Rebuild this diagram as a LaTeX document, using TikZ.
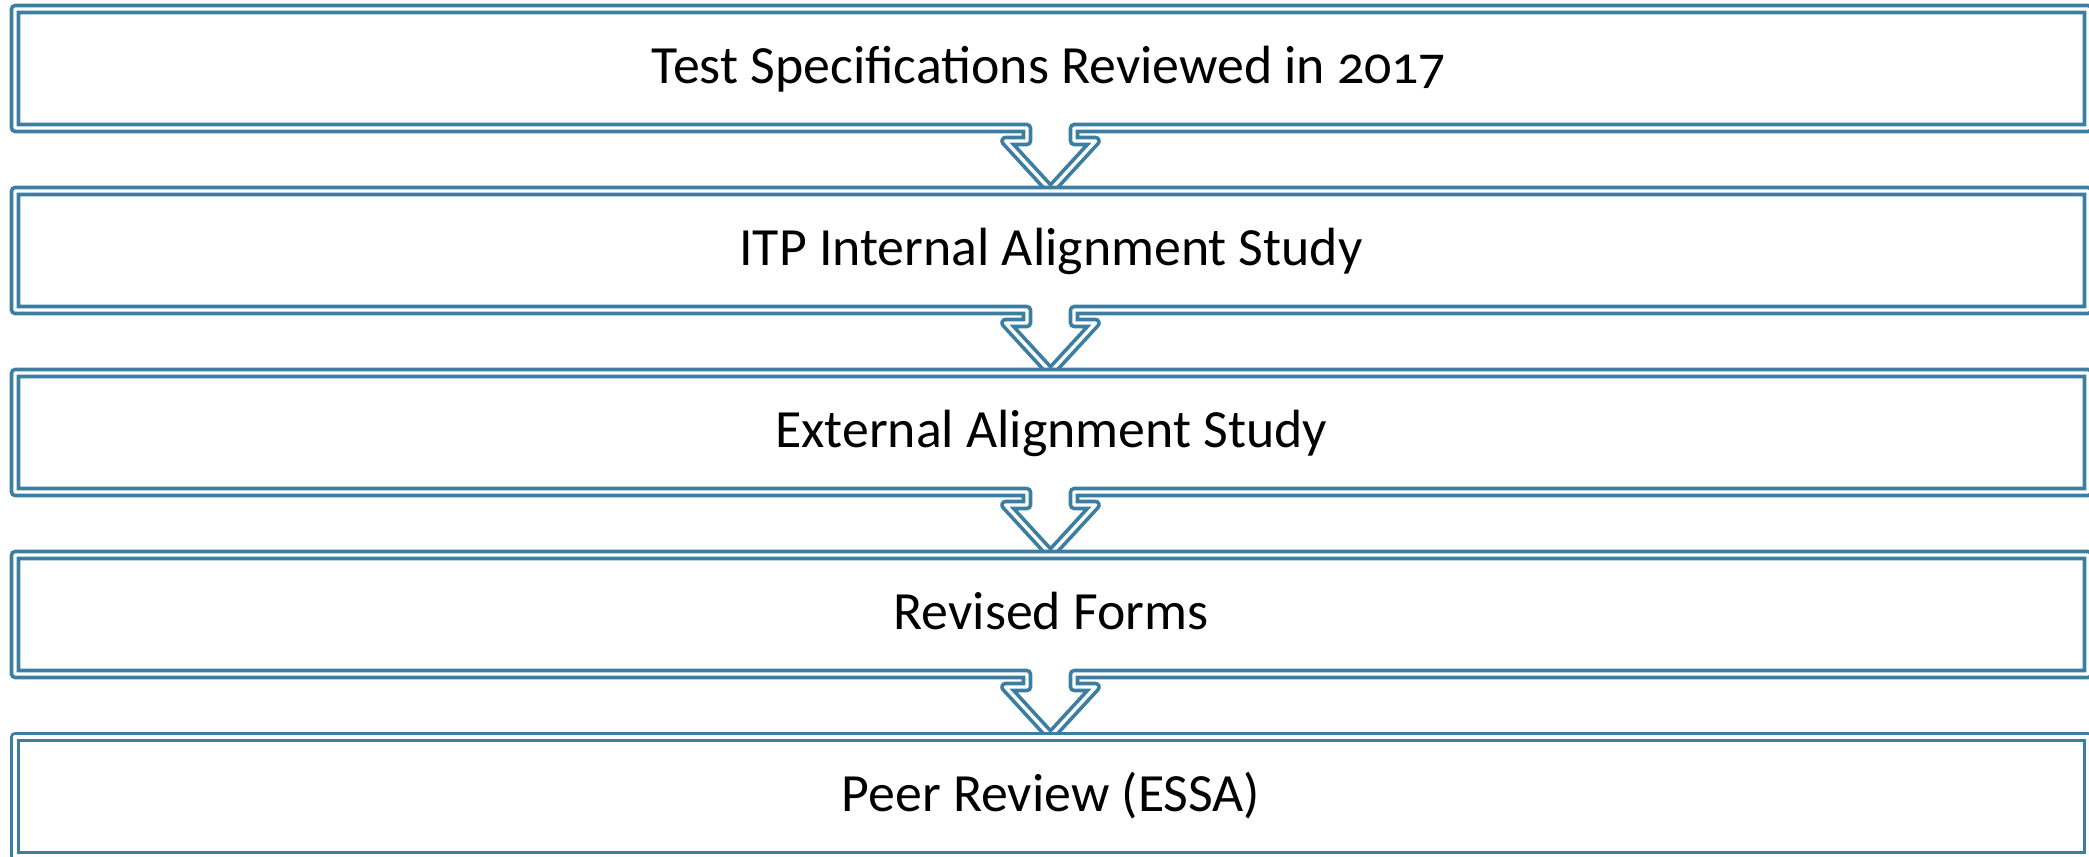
\documentclass[tikz,border=0pt]{standalone}
\usepackage{fontspec}
\setmainfont{Carlito}[Numbers=OldStyle]
\usepackage{tikz}

\definecolor{frameblue}{RGB}{60,126,162}

\begin{document}
\begin{tikzpicture}[x=0.01cm,y=-0.01cm,
  stepframe/.style={draw=frameblue, double=white, line width=1.05pt,
    double distance=0.95pt, line join=round},
  steptext/.style={anchor=base, inner sep=0pt,
    font=\fontsize{15.3}{18}\selectfont}]
\useasboundingbox (0,0) rectangle (2089,856);
% box 1 with arrow
\draw[stepframe] (15,9)--(2088,9)--(2088,128)--(1074,128)--(1074,141)--(1095.5,141)
  --(1050.5,190)--(1005.5,141)--(1027,141)--(1027,128)--(15,128)--cycle;
\node[steptext] (tsr) at (1049,83) {Test Specifications Reviewed in 2017};
% box 2 with arrow
\draw[stepframe] (15,191)--(2088,191)--(2088,310)--(1074,310)--(1074,323)--(1095.5,323)
  --(1050.5,372)--(1005.5,323)--(1027,323)--(1027,310)--(15,310)--cycle;
\node[steptext] (itp) at (1051,265) {ITP Internal Alignment Study};
% box 3 with arrow
\draw[stepframe] (15,373)--(2088,373)--(2088,492)--(1074,492)--(1074,505)--(1095.5,505)
  --(1050.5,554)--(1005.5,505)--(1027,505)--(1027,492)--(15,492)--cycle;
\node[steptext] (ext) at (1051,447) {External Alignment Study};
% box 4 with arrow
\draw[stepframe] (15,555)--(2088,555)--(2088,674)--(1074,674)--(1074,687)--(1095.5,687)
  --(1050.5,736)--(1005.5,687)--(1027,687)--(1027,674)--(15,674)--cycle;
\node[steptext] (rev) at (1051,629) {Revised Forms};
% box 5
\draw[stepframe] (15,737)--(2088,737)--(2088,856)--(15,856)--cycle;
\node[steptext] (peer) at (1051,811) {Peer Review (ESSA)};
\end{tikzpicture}
\end{document}
